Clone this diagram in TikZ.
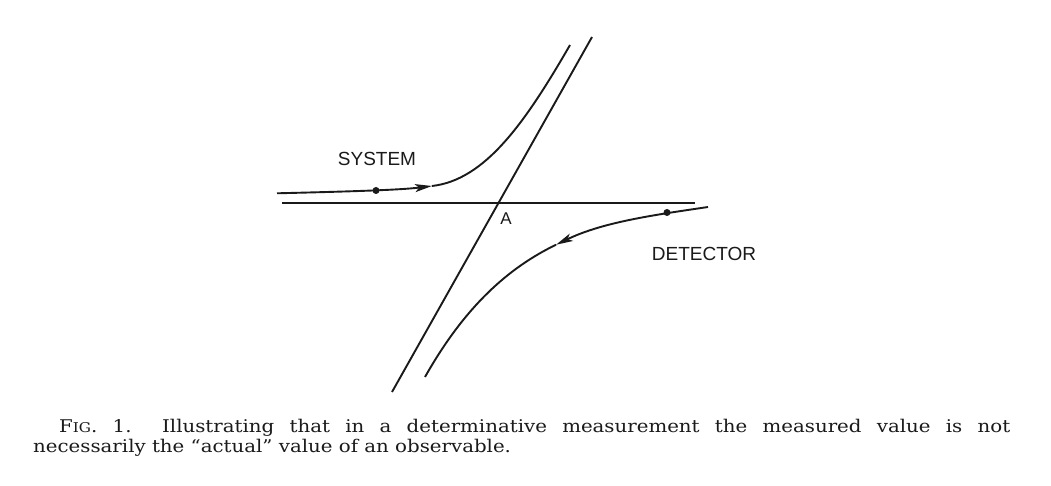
\documentclass[tikz,border=0pt]{standalone}
\usepackage{fontspec}
\setmainfont{DejaVu Serif}
\newfontfamily\capfont{DejaVu Serif}
\newfontfamily\labelfont{Liberation Sans}
\usetikzlibrary{arrows.meta}
\definecolor{ink}{HTML}{1A1A1A}
\begin{document}
\begin{tikzpicture}[x=1pt,y=-1pt,
  traj/.style={line width=1.9pt, draw=ink},
  dotmark/.style={circle, fill=ink, inner sep=0pt, minimum size=7pt},
  lbl/.style={font=\labelfont\fontsize{19}{19}\selectfont, inner sep=0pt, text=ink},
  tipped/.style={-{Stealth[length=17pt,width=8pt,inset=4pt]}},
  captxt/.style={font=\capfont\fontsize{17.5}{19}\selectfont, inner sep=0pt, anchor=base west, text=ink}]
\useasboundingbox (0,0) rectangle (1051,486);
\fill[white] (0,0) rectangle (1051,486);
% straight lines
\coordinate (hL) at (282,202.7);
\coordinate (hR) at (695,202.7);
\coordinate (sT) at (592,37);
\coordinate (sB) at (392,392);
\draw[traj] (hL) -- (hR);
\draw[traj] (sT) -- (sB);
% system trajectory
\coordinate (sysS) at (277,193.3);
\coordinate (sysA) at (432,186);
\coordinate (sysE) at (570,45);
\draw[traj, tipped] (sysS) .. controls (350,191.5) and (400,190) .. (sysA);
\draw[traj] (sysA) .. controls (485,180) and (525,123) .. (sysE);
\node[dotmark] (sysdot) at (376,190.5) {};
% detector trajectory
\coordinate (detS) at (708,207);
\coordinate (detA) at (556,244.75);
\coordinate (detE) at (425,377);
\draw[traj, tipped] (detS) .. controls (654,215) and (603,222) .. (detA);
\draw[traj] (detA) .. controls (509,267.5) and (465,306) .. (detE);
\node[dotmark] (detdot) at (667,212.5) {};
% labels
\node[lbl] (system) at (377,159) {SYSTEM};
\node[lbl, font=\labelfont\fontsize{17}{17}\selectfont] (A) at (506,219) {A};
\node[lbl] (detector) at (704,254) {DETECTOR};
% caption
\node[captxt] (cap1) at (59,432) {\scalebox{1.13}[1]{\makebox[841.6pt][s]{F{\fontsize{13.5}{13.5}\selectfont IG}. 1.\ \ Illustrating that in a determinative measurement the measured value is not}}};
\node[captxt] (cap2) at (33,452.5) {\scalebox{1.13}[1]{necessarily the “actual” value of an observable.}};
\end{tikzpicture}
\end{document}
